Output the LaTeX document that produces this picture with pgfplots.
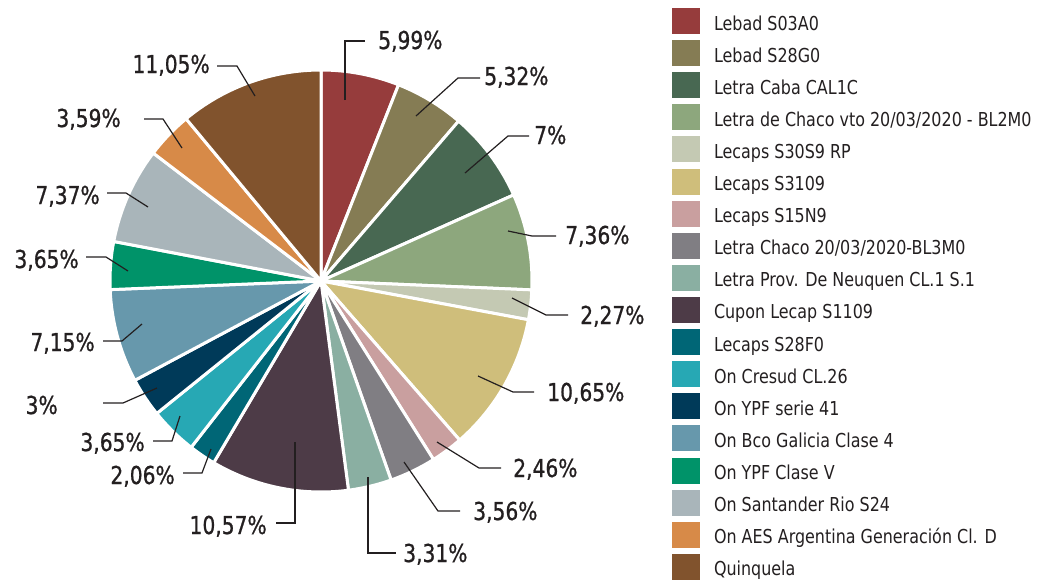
\documentclass[border=0pt]{standalone}
\usepackage{pgfplots}
\pgfplotsset{compat=1.18}
\usepackage{fontspec}
\setmainfont{DejaVu Sans}[FakeStretch=0.83]
\newfontfamily\labfont{DejaVu Sans}[FakeStretch=0.82, FakeBold=0.8]
\definecolor{c1}{HTML}{963C3C}
\definecolor{c2}{HTML}{857C54}
\definecolor{c3}{HTML}{486852}
\definecolor{c4}{HTML}{8DA77D}
\definecolor{c5}{HTML}{C4C9B3}
\definecolor{c6}{HTML}{CFBE7B}
\definecolor{c7}{HTML}{C99F9F}
\definecolor{c8}{HTML}{807E83}
\definecolor{c9}{HTML}{8AAFA2}
\definecolor{c10}{HTML}{4D3B47}
\definecolor{c11}{HTML}{006676}
\definecolor{c12}{HTML}{27A8B4}
\definecolor{c13}{HTML}{003A59}
\definecolor{c14}{HTML}{6798AC}
\definecolor{c15}{HTML}{009369}
\definecolor{c16}{HTML}{A9B5BA}
\definecolor{c17}{HTML}{D78A48}
\definecolor{c18}{HTML}{81532D}
\definecolor{txt}{HTML}{231F20}
\def\astart{90}
\newcommand\slice[2]{%
  \pgfmathsetmacro\aend{\astart-#1*3.6}%
  \edef\temp{\noexpand\fill[#2, draw=white, line width=2.25pt] (axis cs:321,281) -- ++(\astart:158.25pt) arc[start angle=\astart, end angle=\aend, radius=158.25pt] -- cycle;}%
  \temp
  \global\let\astart\aend
}
% leader line: three points, anchor, text position, text
\newcommand\lab[6]{%
  \draw[txt, line width=0.9pt] (axis cs:#1) -- (axis cs:#2) -- (axis cs:#3);
  \node[anchor=#4, inner sep=0pt, text=txt, font=\labfont\fontsize{18.5}{20}\selectfont] at (axis cs:#5) {#6};
}
\begin{document}
\begin{tikzpicture}
\begin{axis}[
  x=0.75pt, y=0.75pt, xmin=0, xmax=1043, ymin=0, ymax=583, y dir=reverse,
  hide axis, clip=false, enlargelimits=false,
  legend style={at={(axis cs:672,8)}, anchor=north west, draw=none, fill=none,
    inner sep=0pt, outer sep=0pt, row sep=4.58pt, column sep=10.5pt,
    font=\fontsize{14.4}{16}\selectfont, text=txt,
    nodes={inner sep=0pt, text height=10.5pt, text depth=0pt}},
  legend cell align=left,
  legend image code/.code={\fill[#1] (0pt,-8.25pt) rectangle (21pt,11.25pt);},
]
\path (axis cs:0,0) rectangle (axis cs:1043,583);
\slice{5.99}{c1}
\slice{5.32}{c2}
\slice{7}{c3}
\slice{7.36}{c4}
\slice{2.27}{c5}
\slice{10.65}{c6}
\slice{2.46}{c7}
\slice{3.56}{c8}
\slice{3.31}{c9}
\slice{10.57}{c10}
\slice{2.06}{c11}
\slice{3.65}{c12}
\slice{3}{c13}
\slice{7.15}{c14}
\slice{3.65}{c15}
\slice{7.37}{c16}
\slice{3.59}{c17}
\slice{11.05}{c18}
\lab{345,100}{345,41}{365,41}{base west}{378,49}{5,99\%}
\lab{416,116}{458,78}{480,78}{base west}{484,85}{5,32\%}
\lab{465,173}{508,136}{529,136}{base west}{534,144}{7\%}
\lab{508,231}{532,236}{556,236}{base west}{565,244}{7,36\%}
\lab{512,298}{546,315}{568,315}{base west}{580,324}{2,27\%}
\lab{478,376}{513,392}{534,392}{base west}{547,401}{10,65\%}
\lab{437,442}{479,468}{501,468}{base west}{513,477}{2,46\%}
\lab{404,462}{438,511}{460,511}{base west}{473,520}{3,56\%}
\lab{368,477}{368,553}{396,553}{base west}{403,562}{3,31\%}
\lab{295,442}{295,523}{276,523}{base east}{267,534}{10,57\%}
\lab{211,449}{202,473}{183,473}{base east}{175,484}{2,06\%}
\lab{180,416}{172,441}{153,441}{base east}{145,451}{3,65\%}
\lab{157,388}{123,403}{103,403}{base east}{58,414}{3\%}
\lab{142,324}{122,341}{103,341}{base east}{95,351}{7,15\%}
\lab{128,271}{106,257}{86,257}{base east}{79,268}{3,65\%}
\lab{148,207}{126,193}{107,193}{base east}{100,204}{7,37\%}
\lab{182,148}{163,119}{144,119}{base east}{121,127}{3,59\%}
\lab{255,96}{237,66}{217,66}{base east}{210,73}{11,05\%}
\addlegendimage{fill=c1,draw=none}\addlegendentry{Lebad S03A0}
\addlegendimage{fill=c2,draw=none}\addlegendentry{Lebad S28G0}
\addlegendimage{fill=c3,draw=none}\addlegendentry{Letra Caba CAL1C}
\addlegendimage{fill=c4,draw=none}\addlegendentry{Letra de Chaco vto 20/03/2020 - BL2M0}
\addlegendimage{fill=c5,draw=none}\addlegendentry{Lecaps S30S9 RP}
\addlegendimage{fill=c6,draw=none}\addlegendentry{Lecaps S3109}
\addlegendimage{fill=c7,draw=none}\addlegendentry{Lecaps S15N9}
\addlegendimage{fill=c8,draw=none}\addlegendentry{Letra Chaco 20/03/2020-BL3M0}
\addlegendimage{fill=c9,draw=none}\addlegendentry{Letra Prov. De Neuquen CL.1 S.1}
\addlegendimage{fill=c10,draw=none}\addlegendentry{Cupon Lecap S1109}
\addlegendimage{fill=c11,draw=none}\addlegendentry{Lecaps S28F0}
\addlegendimage{fill=c12,draw=none}\addlegendentry{On Cresud CL.26}
\addlegendimage{fill=c13,draw=none}\addlegendentry{On YPF serie 41}
\addlegendimage{fill=c14,draw=none}\addlegendentry{On Bco Galicia Clase 4}
\addlegendimage{fill=c15,draw=none}\addlegendentry{On YPF Clase V}
\addlegendimage{fill=c16,draw=none}\addlegendentry{On Santander Rio S24}
\addlegendimage{fill=c17,draw=none}\addlegendentry{On AES Argentina Generación Cl. D}
\addlegendimage{fill=c18,draw=none}\addlegendentry{Quinquela}
\end{axis}
\end{tikzpicture}
\end{document}
